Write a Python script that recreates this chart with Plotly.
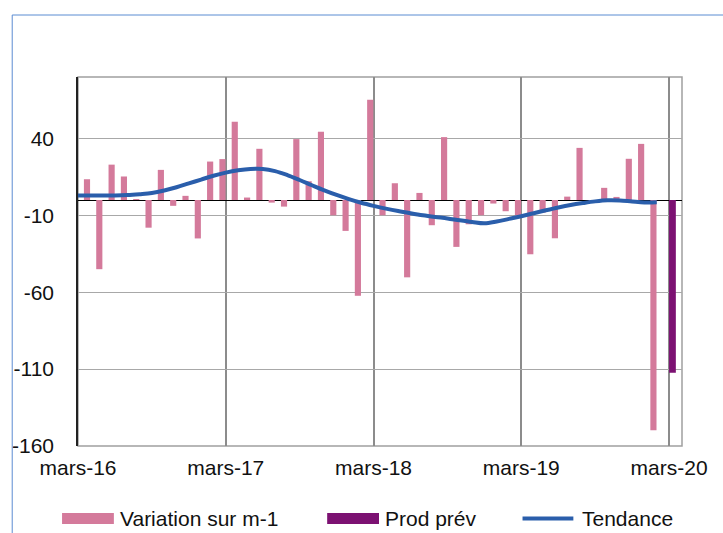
import plotly.graph_objects as go

# ---- data ----
year_ticks = [0, 12, 24, 36, 48]
year_labels = ["mars-16", "mars-17", "mars-18", "mars-19", "mars-20"]

# monthly variation, avril-16 .. février-20 (month index 1..47 since mars-16)
variation = [13.5, -45, 23, 15.3, 0.5, -18, 19.6, -3.8, 2.7, -25, 25, 26.6,
             50.9, 1.6, 33.3, -1.7, -4.3, 39.6, 12.2, 44.4, -9.9, -20.1, -62.3, 65.2,
             -9.9, 10.9, -50.3, 4.6, -16.4, 40.9, -30.5, -15.8, -9.9, -2.3, -7.3, -9.9,
             -35.3, -8.2, -24.9, 2.2, 33.9, -1, 7.9, 2, 26.8, 36.5, -149.8]
variation_month = list(range(1, 1 + len(variation)))

# forecast, mars-20
prod_prev = [-112.4]
prod_prev_month = [48]

# trend, mars-16 .. février-20 (month index 0..47)
tendance = [3, 3, 3, 3, 3.2, 3.8, 4.6, 6.2, 8.3, 10.8, 13.3, 15.8,
            17.8, 19.3, 20.2, 20.2, 18.8, 16.2, 13, 9.6, 6.3, 3.3, 0.6, -1.8,
            -3.8, -5.6, -7.2, -8.6, -9.9, -11, -12, -13.2, -14.3, -15.2, -14, -12.3,
            -10.6, -8.6, -6.7, -4.9, -3.3, -2, -0.9, -0.2, -0.3, -1, -1.6, -1.5]
tendance_month = list(range(0, len(tendance)))

y_ticks = [-160, -110, -60, -10, 40]

PINK = "#D47A9B"
PURPLE = "#7C1172"
BLUE = "#2A5EAB"
FONT = "Liberation Sans, Arial, sans-serif"

W, H = 723, 533
ML, MR, MT, MB = 76, 41, 77, 87
PW, PH = W - ML - MR, H - MT - MB


def px(x):
    return (x - ML) / PW


def py(y):
    return (H - MB - y) / PH


fig = go.Figure()
fig.add_trace(go.Bar(x=variation_month, y=variation, name="Variation sur m-1",
                     marker=dict(color=PINK, line=dict(width=0)),
                     width=0.5, offset=-0.52, showlegend=False))
fig.add_trace(go.Bar(x=prod_prev_month, y=prod_prev, name="Prod prév",
                     marker=dict(color=PURPLE, line=dict(width=0)),
                     width=0.55, offset=0.0, showlegend=False))
fig.add_trace(go.Scatter(x=tendance_month, y=tendance, name="Tendance", mode="lines",
                         line=dict(color=BLUE, width=4, shape="spline", smoothing=1),
                         showlegend=False))

shapes = []
# plot frame (gray)
shapes.append(dict(type="rect", xref="paper", yref="paper", x0=0, x1=1, y0=0, y1=1,
                   line=dict(color="#A0A0A0", width=1.5), layer="below"))
# outer blue border
shapes.append(dict(type="line", xref="paper", yref="paper",
                   x0=px(10), x1=px(730), y0=py(15), y1=py(15),
                   line=dict(color="#5B8CD2", width=1)))
shapes.append(dict(type="line", xref="paper", yref="paper",
                   x0=px(10), x1=px(10), y0=py(15), y1=py(540),
                   line=dict(color="#5B8CD2", width=1)))
# legend symbols
LY = 518.5
shapes.append(dict(type="rect", xref="paper", yref="paper",
                   x0=px(60), x1=px(112), y0=py(524), y1=py(513),
                   fillcolor=PINK, line=dict(width=0)))
shapes.append(dict(type="rect", xref="paper", yref="paper",
                   x0=px(326), x1=px(378), y0=py(524), y1=py(513),
                   fillcolor=PURPLE, line=dict(width=0)))
shapes.append(dict(type="line", xref="paper", yref="paper",
                   x0=px(522), x1=px(573), y0=py(LY), y1=py(LY),
                   line=dict(color=BLUE, width=4)))

annotations = []
for txt, x0 in [("Variation sur m-1", 116), ("Prod prév", 382), ("Tendance", 580)]:
    annotations.append(dict(text=txt, xref="paper", yref="paper", x=px(x0), y=py(LY),
                            xanchor="left", yanchor="middle", showarrow=False,
                            font=dict(family=FONT, size=21, color="#111111")))

fig.update_layout(
    width=W, height=H,
    margin=dict(l=ML, r=MR, t=MT, b=MB),
    paper_bgcolor="white", plot_bgcolor="white",
    barmode="overlay",
    font=dict(family=FONT, size=21, color="#111111"),
    shapes=shapes, annotations=annotations,
    xaxis=dict(range=[0, 49.05], tickvals=year_ticks, ticktext=year_labels,
               showgrid=True, gridcolor="#8C8C8C", gridwidth=2,
               zeroline=False, showline=False, ticks="",
               ticklabelstandoff=7, tickfont=dict(size=21)),
    yaxis=dict(range=[-160, 80], tickvals=y_ticks, ticktext=[str(v) for v in y_ticks],
               showgrid=True, gridcolor="#A8A8A8", gridwidth=1.2,
               zeroline=True, zerolinecolor="#000000", zerolinewidth=1.2,
               showline=True, linecolor="#222222", linewidth=1.5,
               ticks="", ticklabelstandoff=18, tickfont=dict(size=21)),
)

fig.write_html(
    "out.html",
    config={"displayModeBar": False},
    post_script="document.body.style.margin='0px';document.body.style.overflow='hidden';",
)
